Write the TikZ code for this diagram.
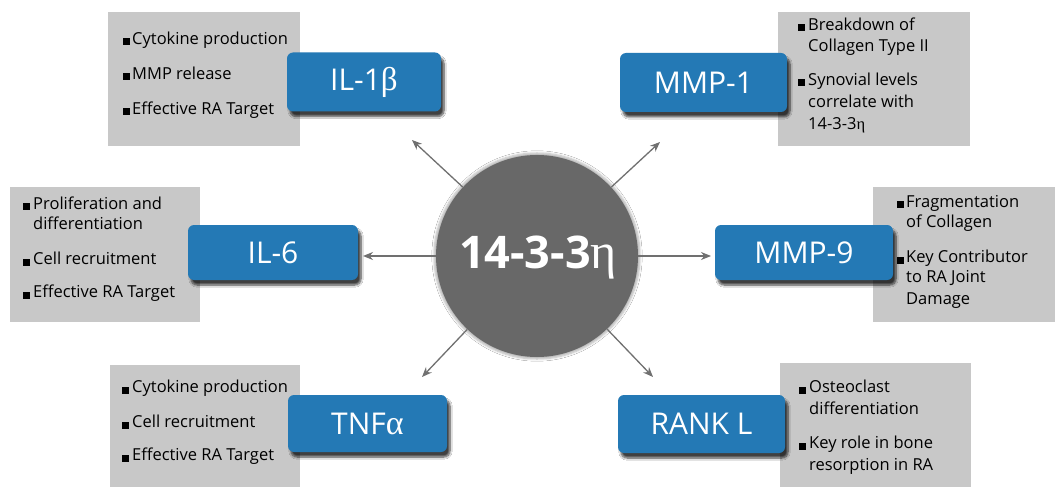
\documentclass[tikz,border=0pt]{standalone}
\usepackage{fontspec}
\setmainfont{Open Sans}
\newfontfamily\grk{Liberation Serif}
\usetikzlibrary{shadows.blur,arrows.meta}
\definecolor{boxblue}{RGB}{36,121,181}
\definecolor{boxgrey}{RGB}{200,200,200}
\definecolor{circgrey}{RGB}{104,104,104}
\definecolor{arrgrey}{RGB}{112,112,112}
\newcommand\bitem[5]{%
  \node[bul] (#1b) at (#2,#4) {};
  \node[itm] (#1) at (#3,#4) {#5};}
\newcommand\citem[4]{\node[itm] (#1) at (#2,#3) {#4};}
\begin{document}
\begin{tikzpicture}[x=1pt,y=-1pt,
  greybox/.style={fill=boxgrey,draw=none,inner sep=0pt,anchor=north west},
  bluebox/.style={fill=boxblue,draw=none,rounded corners=6pt,inner sep=0pt,
    text=white,font=\fontsize{30}{33}\selectfont,
    blur shadow={shadow xshift=3pt,shadow yshift=-5pt,shadow blur steps=8,shadow opacity=75}},
  bul/.style={fill=black,draw=none,inner sep=0pt,minimum size=7pt},
  itm/.style={anchor=mid west,inner sep=0pt,text=black,font=\fontsize{16.5}{19}\selectfont},
  arr/.style={draw=arrgrey,line width=1.3pt,-{Stealth[length=10pt,width=8pt]}}]
\useasboundingbox[fill=white] (0,0) rectangle (1057,489);
% grey boxes
\node[greybox,minimum width=192,minimum height=134] (g1) at (108,12) {};
\node[greybox,minimum width=192,minimum height=134] (g2) at (778,12) {};
\node[greybox,minimum width=190,minimum height=135] (g3) at (10,187) {};
\node[greybox,minimum width=182,minimum height=135] (g4) at (873,187) {};
\node[greybox,minimum width=190,minimum height=122] (g5) at (110,365) {};
\node[greybox,minimum width=191,minimum height=124] (g6) at (780,363) {};
% texts
\bitem{a1}{126}{132}{42}{Cytokine production}
\bitem{a2}{126}{132}{77}{MMP release}
\bitem{a3}{126}{132}{112}{Effective RA Target}
\bitem{b1}{801}{808}{28}{Breakdown of}
\citem{b2}{808}{49}{Collagen Type II}
\bitem{b3}{801}{808}{83}{Synovial levels}
\citem{b4}{808}{105}{correlate with}
\citem{b5}{808}{127}{14-3-3{\grk η}}
\bitem{c1}{26}{33}{207}{Proliferation and}
\citem{c2}{33}{227}{differentiation}
\bitem{c3}{26}{33}{262}{Cell recruitment}
\bitem{c4}{26}{33}{295}{Effective RA Target}
\bitem{d1}{900}{906}{205}{Fragmentation}
\citem{d2}{906}{225}{of Collagen}
\bitem{d3}{900}{906}{260}{Key Contributor}
\citem{d4}{906}{280}{to RA Joint}
\citem{d5}{906}{302}{Damage}
\bitem{e1}{125}{132}{390}{Cytokine production}
\bitem{e2}{125}{132}{425}{Cell recruitment}
\bitem{e3}{125}{132}{458}{Effective RA Target}
\bitem{f1}{802}{809}{390}{Osteoclast}
\citem{f2}{809}{412}{differentiation}
\bitem{f3}{802}{809}{446}{Key role in bone}
\citem{f4}{809}{468}{resorption in RA}
% blue boxes
\node[bluebox,minimum width=154,minimum height=59] (il1) at (364,82) {IL-1{\grk\fontsize{33}{33}\selectfont β}};
\node[bluebox,minimum width=167,minimum height=59] (mmp1) at (703.5,82.5) {MMP-1};
\node[bluebox,minimum width=170,minimum height=55] (il6) at (273,252.5) {IL-6};
\node[bluebox,minimum width=178,minimum height=55] (mmp9) at (804,252.5) {MMP-9};
\node[bluebox,minimum width=159,minimum height=57] (tnf) at (367.5,423.5) {TNF{\grk\fontsize{34}{34}\selectfont α}};
\node[bluebox,minimum width=167,minimum height=58] (rank) at (701.5,424) {RANK L};
% centre
\node[circle,fill=circgrey,minimum size=202,inner sep=0pt,
  blur shadow={shadow xshift=0pt,shadow yshift=0pt,shadow scale=1.02,shadow blur steps=5,shadow opacity=30}] (c) at (537,256) {};
\node[anchor=base,text=white,inner sep=0pt] (ct) at (538,268) {\fontsize{45}{48}\selectfont\bfseries 14-3-3{\grk\mdseries\fontsize{50}{50}\selectfont η}};
% arrows
\coordinate (t1) at (412,140);
\coordinate (t2) at (660,142);
\coordinate (t3) at (363,256);
\coordinate (t4) at (711,256);
\coordinate (t5) at (422,377);
\coordinate (t6) at (653,377);
\draw[arr] (c) -- (t1);
\draw[arr] (c) -- (t2);
\draw[arr] (c) -- (t3);
\draw[arr] (c) -- (t4);
\draw[arr] (c) -- (t5);
\draw[arr] (c) -- (t6);
\end{tikzpicture}
\end{document}
